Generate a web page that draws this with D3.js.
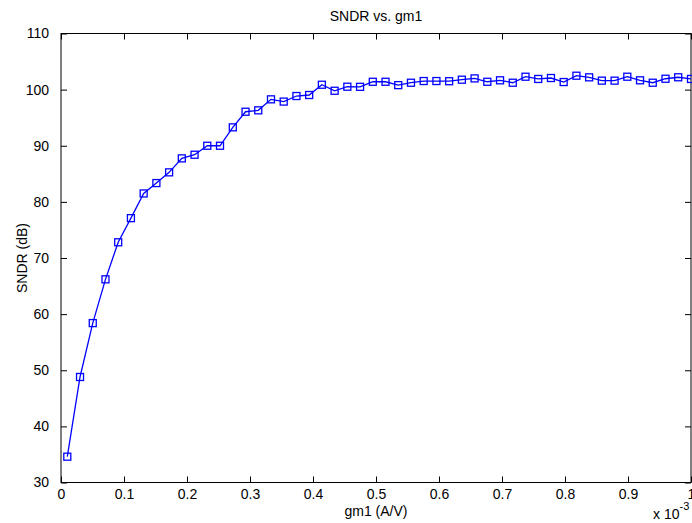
<!DOCTYPE html>
<html>
<head>
<meta charset="utf-8">
<script src="https://cdn.jsdelivr.net/npm/d3@7"></script>
<style>
  html, body { margin: 0; padding: 0; background: #fff; }
  svg { display: block; font-family: "Liberation Sans", Arial, Helvetica, sans-serif; }
</style>
</head>
<body>
<svg id="chart" width="692" height="523"></svg>
<script>
// gm1 values in units of 1e-3 A/V
const gm1 = [0.0100, 0.0302, 0.0504, 0.0706, 0.0908, 0.1110, 0.1312, 0.1514, 0.1716, 0.1918,
             0.2120, 0.2322, 0.2524, 0.2727, 0.2929, 0.3131, 0.3333, 0.3535, 0.3737, 0.3939,
             0.4141, 0.4343, 0.4545, 0.4747, 0.4949, 0.5151, 0.5353, 0.5555, 0.5757, 0.5959,
             0.6161, 0.6363, 0.6565, 0.6767, 0.6969, 0.7171, 0.7373, 0.7575, 0.7777, 0.7979,
             0.8181, 0.8383, 0.8585, 0.8787, 0.8989, 0.9191, 0.9393, 0.9595, 0.9797, 1.0000];
const sndr = [34.6, 48.8, 58.4, 66.2, 72.8, 77.1, 81.5, 83.35, 85.26, 87.75,
              88.4, 90.0, 90.0, 93.28, 96.06, 96.31, 98.27, 97.87, 98.86, 99.04,
              100.87, 99.8, 100.52, 100.5, 101.4, 101.4, 100.8, 101.23, 101.53, 101.53,
              101.5, 101.77, 102.0, 101.4, 101.66, 101.23, 102.3, 101.9, 102.07, 101.35,
              102.48, 102.19, 101.6, 101.6, 102.3, 101.66, 101.23, 101.94, 102.2, 101.9];
const xTicks = [0, 0.1, 0.2, 0.3, 0.4, 0.5, 0.6, 0.7, 0.8, 0.9, 1];
const xTickLabels = ["0", "0.1", "0.2", "0.3", "0.4", "0.5", "0.6", "0.7", "0.8", "0.9", "1"];
const yTicks = [30, 40, 50, 60, 70, 80, 90, 100, 110];
const titleText = "SNDR vs. gm1";
const xLabel = "gm1 (A/V)";
const yLabel = "SNDR (dB)";

const L = 61, R = 691, T = 33.5, B = 482.5;
const svg = d3.select("#chart");
const x = d3.scaleLinear().domain([0, 1]).range([L, R]);
const y = d3.scaleLinear().domain([30, 110]).range([B, T]);
const tickLen = 6;
const fs = 14;

// axes with inward ticks
const xAxisB = d3.axisBottom(x).tickValues(xTicks).tickSizeInner(-tickLen).tickSizeOuter(0)
  .tickPadding(10).tickFormat((d, i) => xTickLabels[i]);
const gxb = svg.append("g").attr("transform", `translate(0,${B})`).call(xAxisB);
const gxt = svg.append("g").attr("transform", `translate(0,${T})`)
  .call(d3.axisTop(x).tickValues(xTicks).tickSizeInner(-tickLen).tickSizeOuter(0).tickFormat(""));
const gyl = svg.append("g").attr("transform", `translate(${L},0)`)
  .call(d3.axisLeft(y).tickValues(yTicks).tickSizeInner(-tickLen).tickSizeOuter(0).tickPadding(12));
const gyr = svg.append("g").attr("transform", `translate(${R},0)`)
  .call(d3.axisRight(y).tickValues(yTicks).tickSizeInner(-tickLen).tickSizeOuter(0).tickFormat(""));

[gxb, gxt, gyl, gyr].forEach(g => {
  g.select(".domain").remove();
  g.selectAll(".tick line").attr("stroke", "#000").attr("stroke-width", 1);
  g.selectAll(".tick text").attr("fill", "#000").style("font-size", fs + "px")
    .style("font-family", "'Liberation Sans', Arial, sans-serif");
});
gxb.selectAll(".tick text").attr("y", 7).attr("dy", "0.71em");

// box
svg.append("rect").attr("x", L).attr("y", T).attr("width", R - L).attr("height", B - T)
  .attr("fill", "none").attr("stroke", "#000").attr("stroke-width", 1);

// line
const line = d3.line().x((d, i) => x(gm1[i])).y(d => y(d));
svg.append("path").datum(sndr).attr("d", line)
  .attr("fill", "none").attr("stroke", "#0000ff").attr("stroke-width", 1.3);

// square markers
const ms = 7;
svg.append("g").selectAll("rect").data(sndr).join("rect")
  .attr("x", (d, i) => x(gm1[i]) - ms / 2)
  .attr("y", d => y(d) - ms / 2)
  .attr("width", ms).attr("height", ms)
  .attr("fill", "none").attr("stroke", "#0000ff").attr("stroke-width", 1.3);

// title & labels
svg.append("text").attr("x", (L + R) / 2).attr("y", 21).attr("text-anchor", "middle")
  .style("font-size", fs + "px").text(titleText);
svg.append("text").attr("x", (L + R) / 2).attr("y", 516).attr("text-anchor", "middle")
  .style("font-size", fs + "px").text(xLabel);
svg.append("text").attr("transform", `translate(27,${(T + B) / 2}) rotate(-90)`)
  .attr("text-anchor", "middle").style("font-size", fs + "px").text(yLabel);

// exponent label
const ex = svg.append("text").attr("x", 653).attr("y", 519).style("font-size", fs + "px");
ex.append("tspan").text("x 10");
ex.append("tspan").attr("dy", -9).style("font-size", "11px").text("-3");
</script>
</body>
</html>
